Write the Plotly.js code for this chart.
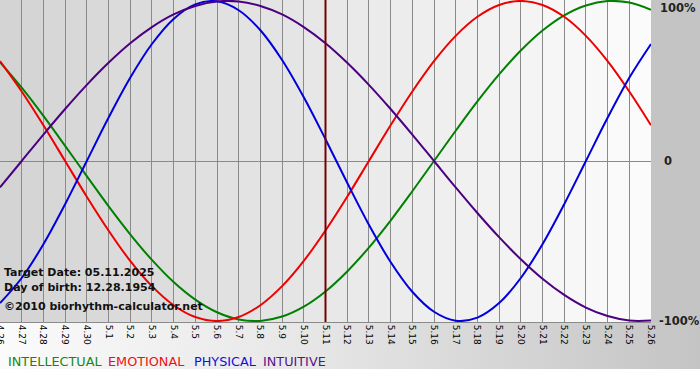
<!DOCTYPE html>
<html>
<head>
<meta charset="utf-8">
<script src="https://cdn.plot.ly/plotly-3.0.1.min.js"></script>
<style>
  html, body { margin: 0; padding: 0; background: #ffffff; }
  #chart {
    width: 700px; height: 380px;
    background:
      linear-gradient(#c4c4c4, #c4c4c4) no-repeat right top / 49px 322px,
      linear-gradient(to bottom, rgba(255,255,255,0) 369px, #ffffff 369px),
      linear-gradient(to right, #fbfbfb 0%, #e6e6e6 45%, #c4c4c4 100%);
  }
</style>
</head>
<body>
<div id="chart"></div>
<script>
// ---- data ----
var days = ['4.26','4.27','4.28','4.29','4.30','5.1','5.2','5.3','5.4','5.5','5.6','5.7','5.8','5.9','5.10',
            '5.11','5.12','5.13','5.14','5.15','5.16','5.17','5.18','5.19','5.20','5.21','5.22','5.23','5.24','5.25','5.26'];
var intellectual = [0.618,0.458,0.282,0.095,-0.095,-0.282,-0.458,-0.618,-0.756,-0.866,-0.945,-0.990,-0.999,-0.972,-0.910,
                    -0.815,-0.690,-0.541,-0.372,-0.189,0,0.189,0.372,0.541,0.690,0.815,0.910,0.972,0.999,0.990,0.945];
var emotional = [0.624,0.434,0.223,0,-0.223,-0.434,-0.624,-0.782,-0.901,-0.975,-1,-0.975,-0.901,-0.782,-0.624,
                 -0.434,-0.223,0,0.223,0.434,0.624,0.782,0.901,0.975,1,0.975,0.901,0.782,0.624,0.434,0.223];
var physical = [-0.888,-0.731,-0.520,-0.270,0,0.270,0.520,0.731,0.888,0.979,0.998,0.942,0.817,0.631,0.398,
                0.136,-0.136,-0.398,-0.631,-0.817,-0.942,-0.998,-0.979,-0.888,-0.731,-0.520,-0.270,0,0.270,0.520,0.731];
var intuitive = [-0.165,0,0.165,0.325,0.476,0.614,0.736,0.837,0.916,0.969,0.997,0.997,0.969,0.916,0.837,
                 0.736,0.614,0.476,0.325,0.165,0,-0.165,-0.325,-0.476,-0.614,-0.736,-0.837,-0.916,-0.969,-0.997,-0.997];
var seriesNames = ['INTELLECTUAL', 'EMOTIONAL', 'PHYSICAL', 'INTUITIVE'];
var targetDay = '5.11';
var yTickLabels = ['100%', '0', '-100%'];
var infoLines = ['Target Date: 05.11.2025', 'Day of birth: 12.28.1954', '\u00a92010 biorhythm-calculator.net'];

// ---- build ----
var xIdx = days.map(function (d, i) { return i; });
var lineColors = ['#008000', '#ee0000', '#0000dd', '#4b0082'];
var legendColors = ['#128a12', '#ee1111', '#1010dd', '#56148a'];
var values = [intellectual, emotional, physical, intuitive];
var traces = values.map(function (vals, k) {
  return { type: 'scatter', mode: 'lines', name: seriesNames[k], x: xIdx, y: vals,
           line: { color: lineColors[k], width: 2, shape: 'spline', smoothing: 1 }, hoverinfo: 'skip' };
});

var shapes = [];
for (var i = 0; i < days.length - 1; i++) {
  var g = Math.round(212 + (251 - 212) * i / (days.length - 2));
  shapes.push({ type: 'rect', xref: 'x', yref: 'paper', x0: i, x1: i + 1, y0: 0, y1: 1,
                fillcolor: 'rgb(' + g + ',' + g + ',' + g + ')', line: { width: 0 }, layer: 'below' });
}
var tIdx = days.indexOf(targetDay);
shapes.push({ type: 'line', xref: 'x', yref: 'paper', x0: tIdx, x1: tIdx, y0: 0, y1: 1,
              line: { color: '#760000', width: 2 }, opacity: 1, layer: 'above' });

var boldFont = { family: 'DejaVu Sans', size: 11, color: '#111111' };
var rightFont = { family: 'DejaVu Sans', size: 11.5, color: '#222222' };
var annotations = [];
var infoY = [272, 287, 306];
infoLines.forEach(function (t, k) {
  annotations.push({ xref: 'paper', yref: 'paper', x: 0, xshift: 2, xanchor: 'left', yanchor: 'middle',
    y: 1 - infoY[k] / 322, text: '<b>' + t + '</b>', showarrow: false, font: boldFont });
});
annotations.push(
  { xref: 'paper', yref: 'y', x: 1, xshift: 7, xanchor: 'left', yanchor: 'top', y: 1, yshift: 2,
    text: '<b>' + yTickLabels[0] + '</b>', showarrow: false, font: rightFont },
  { xref: 'paper', yref: 'y', x: 1, xshift: 11, xanchor: 'left', yanchor: 'middle', y: 0,
    text: '<b>' + yTickLabels[1] + '</b>', showarrow: false, font: rightFont },
  { xref: 'paper', yref: 'y', x: 1, xshift: 6, xanchor: 'left', yanchor: 'middle', y: -1,
    text: '<b>' + yTickLabels[2] + '</b>', showarrow: false, font: rightFont }
);
var legendX = [6, 106, 192, 261];
seriesNames.forEach(function (n, k) {
  annotations.push({ xref: 'paper', yref: 'paper', x: legendX[k] / 651, xanchor: 'left', yanchor: 'middle',
    y: 1 - 361 / 322, text: n, showarrow: false,
    font: { family: 'DejaVu Sans', size: 12.8, color: legendColors[k] } });
});

var layout = {
  width: 700, height: 380,
  margin: { l: 0, r: 49, t: 0, b: 58, pad: 0 },
  paper_bgcolor: 'rgba(0,0,0,0)',
  plot_bgcolor: '#e6e6e6',
  showlegend: false,
  xaxis: {
    range: [0, days.length - 1], tickmode: 'array', tickvals: xIdx, ticktext: days,
    tickangle: 90, tickfont: { family: 'DejaVu Sans', size: 9, color: '#000' },
    ticklabeloverflow: 'allow',
    showgrid: true, gridcolor: '#8a8a8a', gridwidth: 1, zeroline: false,
    showline: true, linecolor: '#8a8a8a', linewidth: 1, ticks: '', fixedrange: true
  },
  yaxis: {
    range: [-1.006, 1.006], showgrid: false, showticklabels: false, ticks: '',
    zeroline: true, zerolinecolor: '#8a8a8a', zerolinewidth: 1, fixedrange: true
  },
  shapes: shapes,
  annotations: annotations
};

Plotly.newPlot('chart', traces, layout, { staticPlot: true, displayModeBar: false });
</script>
</body>
</html>
